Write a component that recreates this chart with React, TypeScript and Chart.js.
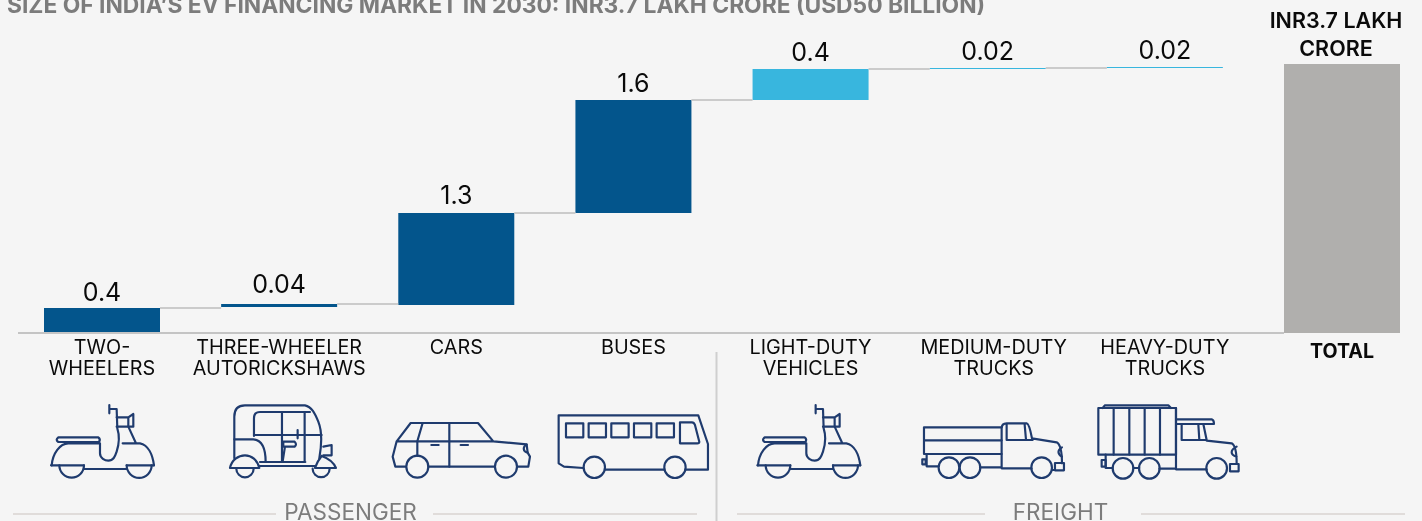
import React, { useEffect, useRef } from "react";
import { Chart, registerables } from "chart.js";

Chart.register(...registerables);

const categories = [
  ["TWO-", "WHEELERS"],
  ["THREE-WHEELER", "AUTORICKSHAWS"],
  ["CARS"],
  ["BUSES"],
  ["LIGHT-DUTY", "VEHICLES"],
  ["MEDIUM-DUTY", "TRUCKS"],
  ["HEAVY-DUTY", "TRUCKS"],
  ["TOTAL"],
];
const barLow = [0, 0.358, 0.385, 1.651, 3.205, 3.631, 3.645, 0];
const barHigh = [0.344, 0.399, 1.651, 3.205, 3.631, 3.645, 3.659, 3.7];
const valueLabels = ["0.4", "0.04", "1.3", "1.6", "0.4", "0.02", "0.02"];
const totalLabel = ["INR3.7 LAKH", "CRORE"];
const barColors = ["#03558c", "#03558c", "#03558c", "#03558c", "#38b6de", "#38b6de", "#38b6de", "#b0afad"];
const titleText = "SIZE OF INDIA\u2019S EV FINANCING MARKET IN 2030: INR3.7 LAKH CRORE (USD50 BILLION)";
const groupLabels = ["PASSENGER", "FREIGHT"];

const FONT = "Inter, sans-serif";

const decor = {
  id: "decor",
  beforeDraw(chart: any) {
    // the MEDIUM-DUTY label sits slightly right of its bar in the reference
    const item = chart.scales.x.getLabelItems()[5];
    if (item && !item.__shifted) {
      item.options.translation[0] += 6;
      item.__shifted = true;
    }
  },
  afterDatasetsDraw(chart: any) {
    const { ctx, scales } = chart;
    const x = scales.x;
    const y = scales.y;
    const half = 58;
    const rise = [14.5, 18.5, 16.5, 15.5, 15.5, 15.5, 15.5];
    ctx.save();
    // baseline
    ctx.strokeStyle = "#c4c4c4";
    ctx.lineWidth = 2;
    ctx.beginPath();
    ctx.moveTo(18, y.getPixelForValue(0));
    ctx.lineTo(x.getPixelForValue(7) - half, y.getPixelForValue(0));
    ctx.stroke();
    // connectors
    ctx.strokeStyle = "#bdbdbd";
    ctx.lineWidth = 1.5;
    for (let i = 0; i < 6; i++) {
      const py = y.getPixelForValue(barHigh[i]);
      ctx.beginPath();
      ctx.moveTo(x.getPixelForValue(i) + half, py);
      ctx.lineTo(x.getPixelForValue(i + 1) - half, py);
      ctx.stroke();
    }
    // value labels
    ctx.fillStyle = "#0a0a0a";
    ctx.textAlign = "center";
    ctx.textBaseline = "middle";
    ctx.font = `400 25px ${FONT}`;
    valueLabels.forEach((t, i) => {
      ctx.fillText(t, x.getPixelForValue(i), y.getPixelForValue(barHigh[i]) - rise[i]);
    });
    // total label
    ctx.font = `600 21.5px ${FONT}`;
    totalLabel.forEach((t, i) => {
      ctx.fillText(t, x.getPixelForValue(7) - 6, 21.5 + i * 28);
    });
    // title
    ctx.fillStyle = "#7c7c7c";
    ctx.textAlign = "left";
    ctx.font = `700 22.8px ${FONT}`;
    ctx.fillText(titleText, 7, 6);
    // groups
    ctx.textAlign = "center";
    ctx.font = `400 22.5px ${FONT}`;
    ctx.fillText(groupLabels[0], 350.5, 513);
    ctx.fillText(groupLabels[1], 1060.5, 513);
    ctx.strokeStyle = "#e0dcda";
    ctx.lineWidth = 2;
    [[13, 276], [433, 697], [737, 985], [1141, 1405]].forEach(([a, b]) => {
      ctx.beginPath();
      ctx.moveTo(a, 514);
      ctx.lineTo(b, 514);
      ctx.stroke();
    });
    ctx.strokeStyle = "#cfcfcf";
    ctx.beginPath();
    ctx.moveTo(716.5, 352);
    ctx.lineTo(716.5, 521);
    ctx.stroke();
    ctx.restore();
  },
};

const STROKE = "#1f3b6e";

function Icon({ x, y, children }: { x: number; y: number; children: React.ReactNode }) {
  return (
    <g transform={`translate(${x} ${y}) scale(0.3333)`} fill="none" stroke={STROKE} strokeWidth={6.5} strokeLinejoin="round" strokeLinecap="round">
      {children}
    </g>
  );
}

function Scooter() {
  return (
    <>
      <path d="M153 406 L252 406 M380 406 L462 406 M252 417 L380 417" />
      <path d="M178 406 A37 37 0 0 0 252 406 M380 406 A37 37 0 0 0 455 406" />
      <path d="M155 406 C158 370 180 340 205 340 L300 340 L300 370 C300 385 315 392 325 392 C340 392 345 380 350 365 C358 340 360 320 352 295 L350 237 L328 237 M328 225 L328 250" />
      <path d="M175 322 L295 322 Q303 328 297 336 L175 336 Q165 330 175 322 Z" />
      <path d="M368 340 L420 340 C445 345 458 375 462 406 M385 290 L408 340" />
      <path d="M350 262 L385 262 L385 290 L350 290 M385 262 L400 252 L400 290 L385 290" />
    </>
  );
}

function Auto() {
  return (
    <>
      <path d="M703 385 L703 260 C703 238 715 226 735 226 L915 226 C935 230 945 250 955 275 C965 300 968 330 958 385" />
      <path d="M762 318 L762 265 C762 252 770 246 780 246 L930 246 M762 315 L965 315 M846 246 L846 395 M914 246 L914 395 M780 396 L916 396" />
      <path d="M850 335 L884 335 Q892 343 884 350 L850 350 Z M855 350 L848 395 M893 300 L893 325" />
      <path d="M703 328 L760 328 C785 330 797 350 797 396" />
      <path d="M690 414 C695 390 715 376 735 376 C755 376 772 390 778 414 Z M709 416 A26 26 0 1 0 761 416" />
      <path d="M778 408 L945 408 M945 414 L1008 414 C1000 395 985 385 965 378 M945 414 C950 400 955 390 965 378 M938 416 A25 25 0 1 0 989 416" />
      <path d="M970 350 L995 345 L995 376 L970 376" />
    </>
  );
}

function Car() {
  return (
    <>
      <path d="M110 334 L152 279 L354 279 L400 334 L500 343 L503 368 L510 380 L505 410 L472 410 M110 334 L400 334 M110 334 L98 380 L106 410 L138 410 M205 410 L405 410" />
      <circle cx={172} cy={410} r={33} />
      <circle cx={438} cy={410} r={33} />
      <path d="M188 279 L172 334 L172 378 M268 279 L268 410 M214 345 L236 345 M302 345 L324 345 M500 344 C488 350 488 365 503 368" />
    </>
  );
}

function Bus() {
  return (
    <>
      <path d="M670 414 L612 410 L596 400 L596 256 L1015 256 L1044 342 L1044 419 L977 419 M912 419 L736 419" />
      {[618, 686, 754, 822, 890].map((wx) => (
        <rect key={wx} x={wx} y={280} width={52} height={42} />
      ))}
      <path d="M960 277 L996 277 Q1002 277 1005 285 L1018 335 Q1018 340 1012 340 L960 340 Z" />
      <circle cx={703} cy={412} r={32} />
      <circle cx={945} cy={412} r={32} />
    </>
  );
}

function MediumTruck() {
  return (
    <>
      <path d="M845 292 L612 292 L612 372 L845 372 M612 331 L845 331 M620 372 L620 409 L655 409" />
      <rect x={607} y={388} width={10} height={15} />
      <path d="M845 415 L845 295 Q845 280 860 280 L920 280 Q928 282 936 325 L1010 337 Q1026 345 1026 400 M860 283 L860 330 L938 330 M914 283 L918 328 M845 415 L935 415 M780 412 L845 412 M997 420 L1005 420" />
      {[687, 750, 965].map((cx) => (
        <circle key={cx} cx={cx} cy={413} r={31} />
      ))}
      <rect x={1005} y={399} width={27} height={22} />
      <path d="M1026 352 C1012 360 1012 372 1026 380" />
    </>
  );
}

function HeavyTruck() {
  return (
    <>
      <rect x={115} y={234} width={233} height={140} />
      <path d="M161 234 L161 374 M208 234 L208 374 M254 234 L254 374 M300 234 L300 374 M128 234 L135 226 L325 226 L333 234 M137 374 L137 414 L158 414 M220 414 L238 414" />
      <rect x={125} y={390} width={12} height={20} />
      {[189, 268, 470].map((cx) => (
        <circle key={cx} cx={cx} cy={415} r={31} />
      ))}
      <path d="M298 416 L348 416 M348 234 L348 418 L440 418 M350 268 L455 268 Q462 270 462 282 L350 282 M365 282 L365 330 L440 330 L430 282 M415 282 L418 330 M440 332 L515 340 Q530 348 530 400 M530 350 C510 360 510 375 530 380" />
      <rect x={510} y={402} width={26} height={22} />
    </>
  );
}

export default function App() {
  const ref = useRef<HTMLCanvasElement>(null);
  useEffect(() => {
    document.body.style.margin = "0";
    document.body.style.background = "#f5f5f5";
    const chart = new Chart(ref.current!, {
      type: "bar",
      data: {
        labels: categories as any,
        datasets: [
          {
            data: barLow.map((l, i) => [l, barHigh[i]]) as any,
            backgroundColor: barColors,
            barThickness: 116,
            borderWidth: 0,
            inflateAmount: 0,
            clip: false,
          } as any,
        ],
      },
      options: {
        responsive: false,
        animation: false,
        events: [],
        layout: { padding: { left: 102, right: 80, top: 64, bottom: 0 } },
        plugins: { legend: { display: false }, tooltip: { enabled: false }, title: { display: false } },
        scales: {
          x: {
            offset: false,
            grid: { display: false, drawTicks: false },
            border: { display: false },
            afterFit: (s: any) => {
              s.height = 188;
            },
            ticks: {
              padding: 5,
              autoSkip: false,
              maxRotation: 0,
              minRotation: 0,
              color: "#0a0a0a",
              font: (c: any) =>
                c.index === 7
                  ? { family: FONT, size: 19.6, weight: "700", lineHeight: 29 / 19.6 }
                  : { family: FONT, size: 19.8, weight: "400", lineHeight: 21 / 19.8 },
            },
          },
          y: { display: false, min: 0, max: 3.7 },
        },
      },
      plugins: [decor],
    } as any);
    return () => chart.destroy();
  }, []);
  return (
    <div style={{ position: "absolute", left: 0, top: 0, width: 1422, height: 521, overflow: "hidden", background: "#f5f5f5" }}>
      <canvas ref={ref} width={1422} height={521} style={{ position: "absolute", left: 0, top: 0, display: "block" }} />
      <svg width={1422} height={521} style={{ position: "absolute", left: 0, top: 0, pointerEvents: "none" }}>
        <Icon x={0} y={330}><Scooter /></Icon>
        <Icon x={0} y={330}><Auto /></Icon>
        <Icon x={360} y={330}><Car /></Icon>
        <Icon x={360} y={330}><Bus /></Icon>
        <Icon x={706.33} y={330}><Scooter /></Icon>
        <Icon x={720} y={330}><MediumTruck /></Icon>
        <Icon x={1060} y={330}><HeavyTruck /></Icon>
      </svg>
    </div>
  );
}
